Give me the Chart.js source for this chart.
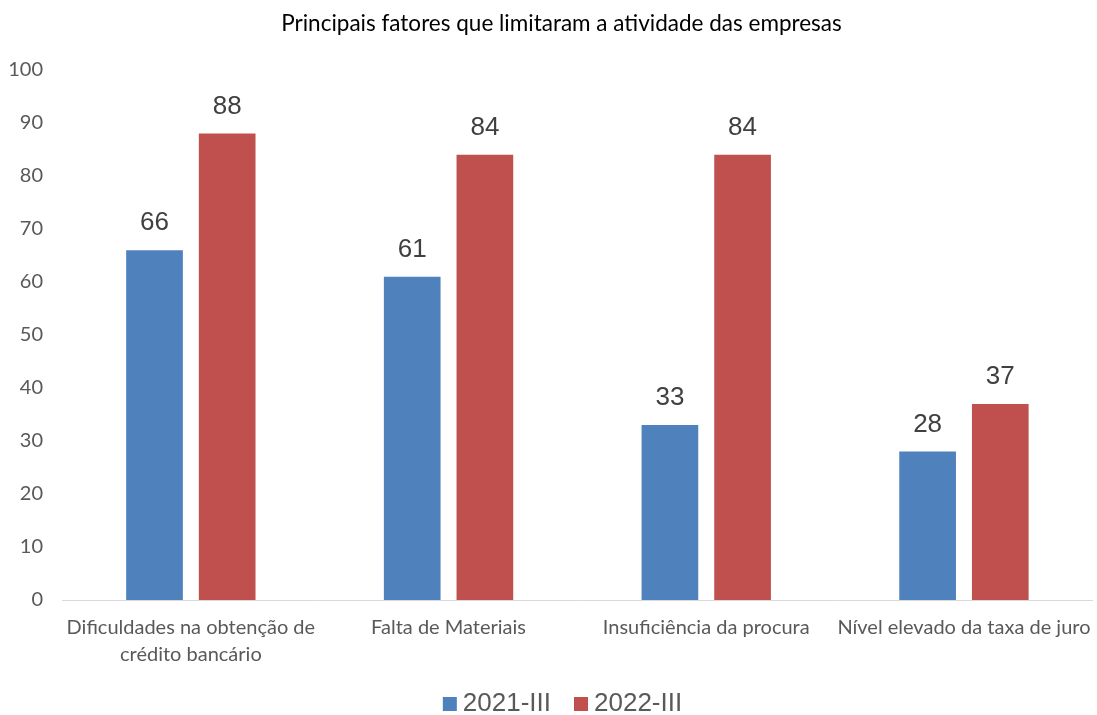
<!DOCTYPE html>
<html>
<head>
<meta charset="utf-8">
<script src="https://cdn.jsdelivr.net/npm/chart.js@4"></script>
<style>
html,body{margin:0;padding:0;background:#fff;}
#wrap{width:1097px;height:715px;position:relative;}
</style>
</head>
<body>
<div id="wrap"><canvas id="c"></canvas></div>
<script>
const categories = [["Dificuldades na obtenção de","crédito bancário"],"Falta de Materiais","Insuficiência da procura","Nível elevado da taxa de juro"];
const series2021 = [66, 61, 33, 28];
const series2022 = [88, 84, 84, 37];
const seriesNames = ["2021-III", "2022-III"];
const yTicks = [0,10,20,30,40,50,60,70,80,90,100];
const chartTitle = 'Principais fatores que limitaram a atividade das empresas';

const valueLabels = {
  id: 'valueLabels',
  afterDatasetsDraw(chart) {
    const ctx = chart.ctx;
    ctx.save();
    ctx.font = '26px "Liberation Sans", Arial, sans-serif';
    ctx.fillStyle = '#404040';
    ctx.textAlign = 'center';
    ctx.textBaseline = 'middle';
    chart.data.datasets.forEach((ds, i) => {
      const meta = chart.getDatasetMeta(i);
      meta.data.forEach((bar, j) => {
        ctx.fillText(String(ds.data[j]), bar.x, bar.y - 27);
      });
    });
    ctx.restore();
  }
};

const customTitle = {
  id: 'customTitle',
  afterDraw(chart) {
    const ctx = chart.ctx;
    ctx.save();
    ctx.font = '22.5px Lato, "Open Sans", sans-serif';
    ctx.fillStyle = '#000';
    ctx.textAlign = 'center';
    ctx.textBaseline = 'middle';
    ctx.fillText(chartTitle, chart.width / 2 + 13, 24);
    ctx.restore();
  }
};

const customLegend = {
  id: 'customLegend',
  afterDraw(chart) {
    const ctx = chart.ctx;
    ctx.save();
    ctx.font = '26px "Liberation Sans", Arial, sans-serif';
    ctx.textBaseline = 'middle';
    ctx.textAlign = 'left';
    const box = 14, gapBT = 6, gapItems = 23, cy = 704;
    const items = chart.data.datasets.map(ds => ({text: ds.label, color: ds.backgroundColor, w: ctx.measureText(ds.label).width}));
    let total = 0;
    items.forEach((it, i) => { total += box + gapBT + it.w + (i < items.length - 1 ? gapItems : 0); });
    let x = chart.width / 2 + 14 - total / 2;
    items.forEach(it => {
      ctx.fillStyle = it.color;
      ctx.fillRect(x, cy - box / 2, box, box);
      x += box + gapBT;
      ctx.fillStyle = '#595959';
      ctx.fillText(it.text, x, cy);
      x += it.w + gapItems;
    });
    ctx.restore();
  }
};

new Chart(document.getElementById('c'), {
  type: 'bar',
  data: {
    labels: categories,
    datasets: [
      {label: seriesNames[0], data: series2021, backgroundColor: '#4F81BD'},
      {label: seriesNames[1], data: series2022, backgroundColor: '#C0504D'}
    ]
  },
  options: {
    responsive: true,
    maintainAspectRatio: false,
    animation: false,
    devicePixelRatio: 1,
    layout: {padding: {left: 0, right: 0, top: 70, bottom: 40}},
    categoryPercentage: 0.564,
    barPercentage: 0.78,
    plugins: {
      title: {display: false},
      legend: {display: false},
      tooltip: {enabled: false}
    },
    scales: {
      x: {
        grid: {display: false},
        border: {display: true, color: '#d9d9d9', width: 1},
        ticks: {
          color: '#595959',
          maxRotation: 0, autoSkip: false,
          padding: 6.5,
          font: {family: 'Lato, "Open Sans", sans-serif', size: 20, lineHeight: 1.35}
        }
      },
      y: {
        min: 0, max: 100,
        afterFit(scale) { scale.width = 62; },
        afterBuildTicks(scale) { scale.ticks = yTicks.map(v => ({value: v})); },
        grid: {display: false},
        border: {display: false},
        ticks: {
          color: '#595959',
          padding: 11,
          font: {family: 'Lato, "Open Sans", sans-serif', size: 20}
        }
      }
    }
  },
  plugins: [valueLabels, customTitle, customLegend]
});
</script>
</body>
</html>
